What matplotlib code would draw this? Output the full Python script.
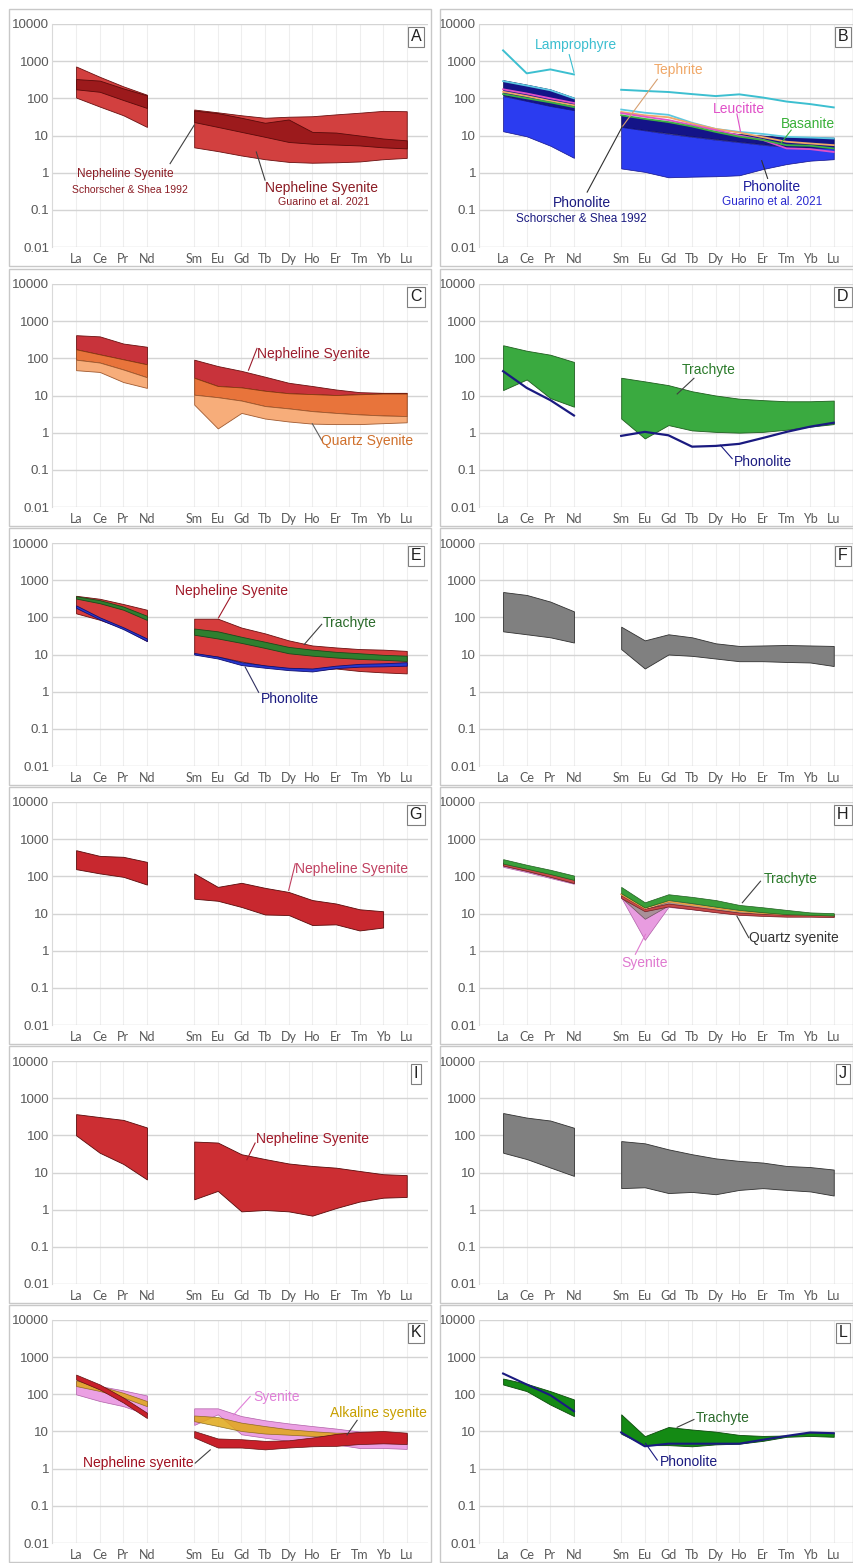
import matplotlib
matplotlib.use("Agg")
import matplotlib.pyplot as plt
from matplotlib.patches import Rectangle
from matplotlib.ticker import NullLocator

# --------------------------------------------------
# DATA  (chondrite-normalised REE)
# --------------------------------------------------

LREE = ["La", "Ce", "Pr", "Nd"]
HREE = ["Sm", "Eu", "Gd", "Tb", "Dy", "Ho", "Er", "Tm", "Yb", "Lu"]
X_L = [0, 1, 2, 3]
X_H = [5, 6, 7, 8, 9, 10, 11, 12, 13, 14]
Y_TICKS = [0.01, 0.1, 1, 10, 100, 1000, 10000]
Y_LABELS = ["0.01", "0.1", "1", "10", "100", "1000", "10000"]

# A
A_light_top_l = [720, 380, 210, 125]
A_light_bot_l = [105, 60, 35, 17]
A_dark_top_l = [330, 300, 185, 120]
A_dark_bot_l = [175, 150, 90, 55]
A_light_top_h = [50, 42, 35, 30, 32, 33, 37, 41, 46, 45]
A_light_bot_h = [4.8, 3.8, 2.9, 2.3, 1.95, 1.85, 1.9, 2.0, 2.3, 2.5]
A_dark_top_h = [47, 40, 30, 22, 27, 12.5, 12, 10, 8.3, 7.4]
A_dark_bot_h = [23, 17, 12.5, 9.2, 6.7, 6.0, 5.7, 5.4, 4.8, 4.5]

# B
B_lamp_l = [1950, 470, 600, 440]
B_lamp_h = [170, 158, 148, 130, 115, 128, 105, 82, 70, 57]
B_navy_top_l = [310, 235, 175, 105]
B_navy_bot_l = [120, 85, 62, 48]
B_navy_top_h = [35, 28, 23, 17.5, 13, 11, 10, 9, 9, 8.8]
B_navy_bot_h = [17, 14, 11.5, 9.5, 8, 6.8, 5.8, 5, 4.7, 4.6]
B_blue_top_l = [115, 85, 62, 48]
B_blue_bot_l = [13, 9.5, 5.3, 2.5]
B_blue_top_h = [17, 13.7, 11, 9.2, 7.7, 6.6, 5.6, 4.9, 4.6, 4.5]
B_blue_bot_h = [1.3, 1.05, 0.75, 0.78, 0.8, 0.85, 1.25, 1.7, 2.1, 2.3]
B_cyan_l = [290, 220, 165, 100]
B_cyan_h = [50, 41, 36, 22, 15, 12.5, 11, 9.2, 8.8, 8.3]
B_teph_l = [150, 115, 85, 65]
B_teph_h = [43, 35, 31, 21, 15, 12, 9, 6.8, 6.1, 5.5]
B_leuc_l = [175, 135, 100, 75]
B_leuc_h = [40, 32, 26, 19, 14, 10, 7.6, 4.5, 4.3, 3.6]
B_bas_l = [130, 100, 78, 58]
B_bas_h = [35, 28, 23, 17.5, 12.5, 9.3, 7.6, 5.5, 5.3, 4.5]

# C
C_top_l = [420, 390, 250, 205]
C_mid1_l = [175, 128, 94, 69]
C_mid2_l = [92, 77, 50, 31]
C_bot_l = [48, 43, 23, 16]
C_top_h = [92, 62, 46, 32, 22, 18, 14.5, 12.3, 11.8, 11.8]
C_mid1_h = [30, 18, 16.5, 13.4, 11.5, 10.9, 10.3, 10.8, 11.3, 11.3]
C_mid2_h = [10.5, 9, 7.3, 5.2, 4.5, 3.8, 3.4, 3.1, 2.9, 2.8]
C_bot_h = [5.7, 1.3, 3.4, 2.4, 2.0, 1.75, 1.7, 1.7, 1.8, 1.9]

# D
D_tr_top_l = [225, 160, 125, 80]
D_tr_bot_l = [14, 27, 8.5, 5.0]
D_ph_l = [45, 16, 7.5, 2.9]
D_tr_top_h = [30, 24, 19, 13, 10, 8.2, 7.5, 7.0, 7.0, 7.3]
D_tr_bot_h = [2.4, 0.7, 1.6, 1.15, 1.05, 1.0, 1.05, 1.2, 1.45, 1.7]
D_ph_h = [0.82, 1.05, 0.85, 0.42, 0.44, 0.5, 0.72, 1.05, 1.45, 1.85]

# E
E_ns_top_l = [380, 316, 228, 160]
E_ns_bot_l = [128, 86, 51, 23]
E_tr_top_l = [370, 290, 195, 110]
E_tr_bot_l = [320, 240, 160, 85]
E_ph_top_l = [210, 100, 54, 27]
E_ph_bot_l = [180, 88, 48, 23]
E_ns_top_h = [92, 92, 53, 37, 24, 17.5, 15.5, 14, 13.5, 12.5]
E_ns_bot_h = [10.5, 8.8, 6.5, 5, 4.2, 3.8, 4.2, 3.6, 3.3, 3.1]
E_tr_top_h = [50, 42, 30, 22, 16, 13.5, 11.8, 10.8, 9.8, 9.3]
E_tr_bot_h = [34, 27, 20.5, 15, 10.8, 9.3, 8.3, 7.6, 7.2, 6.7]
E_ph_top_h = [11, 8.8, 6.2, 5.1, 4.4, 4.2, 5.0, 5.6, 5.8, 6.2]
E_ph_bot_h = [10, 7.8, 5.2, 4.4, 3.8, 3.5, 4.3, 4.7, 4.8, 5.0]

# F
F_top_l = [480, 400, 265, 145]
F_bot_l = [42, 35, 29, 21]
F_top_h = [56, 24, 35, 29, 20, 17, 17.5, 18, 17.5, 17]
F_bot_h = [14, 4.2, 10, 9.2, 7.8, 6.6, 6.6, 6.3, 6.1, 4.9]

# G (no Lu)
G_top_l = [505, 355, 335, 245]
G_bot_l = [156, 120, 97, 60]
G_top_h = [120, 52, 67, 49, 38, 23, 18.6, 13, 11.5]
G_bot_h = [25, 22, 15, 9.4, 9.1, 4.9, 5.1, 3.5, 4.2]

# H
H_tr_top_l = [290, 205, 150, 105]
H_tr_bot_l = [220, 160, 115, 80]
H_rd_top_l = [235, 175, 125, 88]
H_rd_bot_l = [195, 140, 97, 66]
H_sy_top_l = [215, 160, 112, 80]
H_sy_bot_l = [180, 130, 90, 63]
H_sy_top_h = [36, 12, 22, 19, 15, 12, 11, 10, 9.6, 9.5]
H_sy_bot_h = [27, 1.95, 15, 13, 11, 9.5, 9, 8.5, 8.5, 8.3]
H_gy_top_h = [33, 13, 21, 18, 14.5, 11.8, 10.5, 9.8, 9.5, 9.4]
H_gy_bot_h = [27, 7.2, 16.5, 14, 11.5, 9.8, 9.1, 8.7, 8.6, 8.5]
H_rd_top_h = [31, 13.5, 18.5, 15.5, 12.8, 10.6, 9.8, 9.3, 9.3, 9.6]
H_rd_bot_h = [26, 11.5, 15.5, 13, 10.8, 9.2, 8.6, 8.2, 8.2, 8.0]
H_or_h = [33, 14, 21, 17, 14, 11.5, 10.3, 9.6, 9.3, 9.0]
H_tr_top_h = [52, 20, 33, 28, 23, 17, 14.7, 12.5, 10.7, 10.2]
H_tr_bot_h = [35, 14.5, 23, 19, 15.3, 12.5, 10.8, 9.6, 9.2, 8.8]

# I
I_top_l = [372, 310, 260, 163]
I_bot_l = [100, 34, 17, 6.5]
I_top_h = [68, 64, 31, 23, 17.5, 15, 13.5, 11, 9, 8.5]
I_bot_h = [1.9, 3.2, 0.9, 0.98, 0.9, 0.69, 1.1, 1.65, 2.1, 2.2]

# J
J_top_l = [398, 300, 250, 160]
J_bot_l = [34, 23, 13.6, 8.1]
J_top_h = [70, 61, 42, 31, 24, 20.5, 18.5, 15, 14, 12]
J_bot_h = [3.8, 4.0, 2.8, 3.0, 2.6, 3.4, 3.8, 3.4, 3.1, 2.4]

# K
K_sy_top_l = [225, 167, 128, 93]
K_sy_bot_l = [100, 66, 48, 29]
K_al_top_l = [237, 167, 110, 66]
K_al_bot_l = [167, 123, 82, 48]
K_ns_top_l = [340, 185, 82, 32]
K_ns_bot_l = [250, 135, 60, 23]
K_sy_top_h = [42, 42, 26, 20, 16.5, 14, 12, 10, 9.6, 9]
K_sy_bot_h = [15, 29, 8.4, 6.8, 5.6, 5.6, 4.5, 3.6, 3.6, 3.4]
K_al_top_h = [27, 24.5, 17.3, 14, 11.5, 10.2, 9.3, 9.3, 8.6, 8.4]
K_al_bot_h = [19, 14, 10.3, 8.8, 8.2, 7.6, 7.6, 6.8, 6.2, 5.6]
K_ns_top_h = [10.3, 6.5, 6.2, 5.6, 5.8, 6.9, 8.6, 9.8, 10.3, 9.3]
K_ns_bot_h = [6.9, 3.7, 3.7, 3.3, 3.7, 4.0, 4.1, 4.6, 4.8, 4.6]

# L
L_tr_top_l = [266, 192, 122, 73]
L_tr_bot_l = [184, 122, 53, 26]
L_ph_l = [363, 184, 95, 35]
L_tr_top_h = [29, 7.5, 13.2, 11.3, 9.9, 8.1, 7.6, 7.8, 9.3, 9.3]
L_tr_bot_h = [8.7, 4.3, 4.3, 4.0, 4.5, 4.7, 5.6, 7.2, 7.6, 7.2]
L_ph_h = [9.4, 4.0, 4.7, 4.7, 4.7, 4.7, 6.0, 7.6, 9.4, 9.0]

# --------------------------------------------------
# LAYOUT / STYLE
# --------------------------------------------------

W, H = 854, 1563
ROW_TOPS = [24, 284, 543, 802, 1061, 1320]
COL_LEFTS = [52, 479]
AX_W, AX_H = 376, 223
FRAME_X = [(9, 431), (440, 853)]

NAVY = "#1a1a80"
TXT = "Liberation Sans"

fig = plt.figure(figsize=(W / 100, H / 100), dpi=100)
fig.patch.set_facecolor("white")


def make_ax(row, col, letter):
    left, top = COL_LEFTS[col], ROW_TOPS[row]
    fx0, fx1 = FRAME_X[col]
    fy0, fy1 = top - 15, top + AX_H + 19
    fig.add_artist(Rectangle((fx0 / W, 1 - fy1 / H), (fx1 - fx0) / W, (fy1 - fy0) / H,
                             transform=fig.transFigure, fill=False,
                             edgecolor="#c8c8c8", linewidth=1.0))
    ax = fig.add_axes([left / W, 1 - (top + AX_H) / H, AX_W / W, AX_H / H])
    ax.set_yscale("log")
    ax.set_ylim(0.01, 10000)
    ax.set_xlim(-1.02, 14.9)
    ax.set_yticks(Y_TICKS)
    ax.set_yticklabels(Y_LABELS, fontsize=9.6, color="#595959", family=TXT)
    ax.yaxis.set_minor_locator(NullLocator())
    ax.set_xticks(X_L + X_H)
    ax.set_xticklabels(LREE + HREE, fontsize=9, color="#595959", family="Lato")
    ax.tick_params(length=0, pad=2)
    ax.tick_params(axis="x", pad=4)
    for s in ["top", "right", "bottom"]:
        ax.spines[s].set_visible(False)
    ax.spines["left"].set_color("#d9d9d9")
    ax.grid(axis="y", color="#d4d4d4", linewidth=1.0, zorder=0)
    ax.grid(axis="x", color="#eeeeee", linewidth=0.8, zorder=0)
    ax.set_axisbelow(True)
    ax.text(0.968, 0.942, letter, transform=ax.transAxes, ha="center", va="center",
            fontsize=11.5, family=TXT, color="#202020", zorder=8,
            bbox=dict(boxstyle="square,pad=0.18", fc="white", ec="#7f7f7f", lw=0.8))
    return ax


def band(ax, top_l, bot_l, top_h, bot_h, fc, ec, lw=0.6, alpha=1.0, z=2):
    for xs, t, b in ((X_L, top_l, bot_l), (X_H[:len(top_h)], top_h, bot_h)):
        ax.fill_between(xs, b, t, facecolor=fc, edgecolor=ec, linewidth=lw,
                        alpha=alpha, zorder=z)


def line(ax, yl, yh, color, lw=1.4, z=3):
    ax.plot(X_L, yl, color=color, lw=lw, zorder=z)
    ax.plot(X_H[:len(yh)], yh, color=color, lw=lw, zorder=z)


def note(ax, x, y, s, color, size=10):
    ax.text(x, y, s, color=color, fontsize=size, family=TXT,
            ha="center", va="center", zorder=7)


def leader(ax, p0, p1, color="#404040"):
    ax.plot([p0[0], p1[0]], [p0[1], p1[1]], color=color, lw=0.8, zorder=6)


# --------------------------------------------------
# PANELS
# --------------------------------------------------

# A
ax = make_ax(0, 0, "A")
band(ax, A_light_top_l, A_light_bot_l, A_light_top_h, A_light_bot_h, "#d2403f", "#6a1010")
band(ax, A_dark_top_l, A_dark_bot_l, A_dark_top_h, A_dark_bot_h, "#9c1a1c", "#5a0a0a", z=3)
note(ax, 2.1, 0.92, "Nepheline Syenite", "#8b1c24", 8.6)
note(ax, 2.3, 0.35, "Schorscher & Shea 1992", "#8b1c24", 7.5)
leader(ax, (3.98, 1.75), (5.0, 19))
note(ax, 10.37, 0.39, "Nepheline Syenite", "#8b1c24", 10)
note(ax, 10.5, 0.16, "Guarino et al. 2021", "#8b1c24", 7.7)
leader(ax, (8.0, 0.63), (7.63, 3.6))

# B
ax = make_ax(0, 1, "B")
band(ax, B_navy_top_l, B_navy_bot_l, B_navy_top_h, B_navy_bot_h, "#141488", "#0a0a50", lw=0.5)
band(ax, B_blue_top_l, B_blue_bot_l, B_blue_top_h, B_blue_bot_h, "#2b3cf0", "#10108a", lw=0.5, z=3)
line(ax, B_cyan_l, B_cyan_h, "#5cc8e0", lw=1.3)
line(ax, B_teph_l, B_teph_h, "#f0a868", lw=1.3)
line(ax, B_leuc_l, B_leuc_h, "#e050c8", lw=1.3)
line(ax, B_bas_l, B_bas_h, "#3cb043", lw=1.3)
line(ax, B_lamp_l, B_lamp_h, "#3cbfd0", lw=1.4)
note(ax, 3.1, 2800, "Lamprophyre", "#3cbfd0", 10)
leader(ax, (2.8, 1500), (3.0, 500), "#3cbfd0")
note(ax, 7.45, 580, "Tephrite", "#f0a868", 10)
leader(ax, (6.53, 325), (5.04, 17), "#d8a070")
note(ax, 10.0, 53, "Leucitite", "#e050c8", 10)
leader(ax, (9.9, 38), (10.05, 13), "#e050c8")
note(ax, 12.9, 21, "Basanite", "#38b038", 10)
leader(ax, (12.2, 14), (11.75, 6), "#38b038")
note(ax, 3.32, 0.155, "Phonolite", NAVY, 10)
note(ax, 3.32, 0.058, "Schorscher & Shea 1992", NAVY, 8.5)
leader(ax, (3.56, 0.30), (5.04, 17), "#303030")
note(ax, 11.4, 0.42, "Phonolite", "#1c1c9c", 10)
note(ax, 11.4, 0.16, "Guarino et al. 2021", "#2a2ad0", 8.5)
leader(ax, (11.2, 0.7), (10.95, 2.1), "#303030")

# C
ax = make_ax(1, 0, "C")
band(ax, C_top_l, C_mid1_l, C_top_h, C_mid1_h, "#c8333b", "#6a1010")
band(ax, C_mid1_l, C_mid2_l, C_mid1_h, C_mid2_h, "#e8743b", "#8a3a10")
band(ax, C_mid2_l, C_bot_l, C_mid2_h, C_bot_h, "#f7ad7a", "#a05a30")
note(ax, 10.06, 130, "Nepheline Syenite", "#9b1c2c", 10)
leader(ax, (7.66, 185), (7.3, 48), "#9b1c2c")
note(ax, 12.3, 0.59, "Quartz Syenite", "#d0702c", 10)
leader(ax, (10.4, 0.63), (10.0, 1.75), "#606060")

# D
ax = make_ax(1, 1, "D")
band(ax, D_tr_top_l, D_tr_bot_l, D_tr_top_h, D_tr_bot_h, "#3aaa40", "#1e5e1e")
line(ax, D_ph_l, D_ph_h, NAVY, lw=1.6)
note(ax, 8.7, 50, "Trachyte", "#2a7a2a", 10)
leader(ax, (8.08, 29), (7.37, 11))
note(ax, 11.0, 0.16, "Phonolite", NAVY, 10)
leader(ax, (9.7, 0.2), (9.2, 0.46), NAVY)

# E
ax = make_ax(2, 0, "E")
band(ax, E_ns_top_l, E_ns_bot_l, E_ns_top_h, E_ns_bot_h, "#d63c3c", "#6a1010")
band(ax, E_tr_top_l, E_tr_bot_l, E_tr_top_h, E_tr_bot_h, "#2f7f2f", "#1a4a1a", z=3)
band(ax, E_ph_top_l, E_ph_bot_l, E_ph_top_h, E_ph_bot_h, "#2838d0", "#101070", z=3)
note(ax, 6.6, 520, "Nepheline Syenite", "#a01828", 10)
leader(ax, (6.53, 350), (6.03, 97), "#a01828")
note(ax, 11.6, 72, "Trachyte", "#2a6a2a", 10)
leader(ax, (10.4, 65), (9.66, 18.6))
note(ax, 9.07, 0.63, "Phonolite", NAVY, 10)
leader(ax, (7.73, 0.96), (7.16, 4.6), "#303060")

# F
ax = make_ax(2, 1, "F")
band(ax, F_top_l, F_bot_l, F_top_h, F_bot_h, "#808080", "#303030")

# G
ax = make_ax(3, 0, "G")
band(ax, G_top_l, G_bot_l, G_top_h, G_bot_h, "#c8282f", "#5a0a0a")
note(ax, 11.68, 162, "Nepheline Syenite", "#c04060", 10)
leader(ax, (9.28, 218), (9.0, 42), "#c04060")

# H
ax = make_ax(3, 1, "H")
band(ax, H_sy_top_l, H_sy_bot_l, H_sy_top_h, H_sy_bot_h, "#e89ce0", "#b060a8", lw=0.5)
band(ax, H_rd_top_l, H_rd_bot_l, H_gy_top_h, H_gy_bot_h, "#a89098", "#705060", lw=0.5)
band(ax, H_rd_top_l, H_rd_bot_l, H_rd_top_h, H_rd_bot_h, "#c84848", "#702020", lw=0.5)
ax.plot(X_H, H_or_h, color="#e8a040", lw=1.2, zorder=3)
band(ax, H_tr_top_l, H_tr_bot_l, H_tr_top_h, H_tr_bot_h, "#3a9f3a", "#1e5e1e", lw=0.5, z=3)
note(ax, 12.18, 87, "Trachyte", "#2a7a2a", 10)
leader(ax, (10.9, 74), (10.13, 19.5))
note(ax, 12.3, 2.24, "Quartz syenite", "#333333", 10)
leader(ax, (10.4, 2.24), (9.9, 8.5))
note(ax, 5.99, 0.48, "Syenite", "#e07ad0", 10)
leader(ax, (5.6, 0.8), (6.03, 2.75), "#e07ad0")

# I
ax = make_ax(4, 0, "I")
band(ax, I_top_l, I_bot_l, I_top_h, I_bot_h, "#cc2e33", "#5a0a0a")
note(ax, 9.99, 79, "Nepheline Syenite", "#a01828", 10)
leader(ax, (7.58, 62), (7.23, 22), "#a01828")

# J
ax = make_ax(4, 1, "J")
band(ax, J_top_l, J_bot_l, J_top_h, J_bot_h, "#808080", "#303030")

# K
ax = make_ax(5, 0, "K")
band(ax, K_sy_top_l, K_sy_bot_l, K_sy_top_h, K_sy_bot_h, "#eba0e3", "#b060a8", lw=0.5)
band(ax, K_al_top_l, K_al_bot_l, K_al_top_h, K_al_bot_h, "#e0a818", "#806010", lw=0.5,
     alpha=0.85, z=3)
band(ax, K_ns_top_l, K_ns_bot_l, K_ns_top_h, K_ns_bot_h, "#c8202a", "#601010", lw=0.5, z=4)
note(ax, 8.5, 83, "Syenite", "#e080d8", 10)
leader(ax, (7.37, 87), (6.67, 28), "#e080d8")
note(ax, 12.8, 31.5, "Alkaline syenite", "#c8a000", 10)
leader(ax, (11.9, 20), (11.47, 8.1))
note(ax, 2.64, 1.41, "Nepheline syenite", "#a01020", 10)
leader(ax, (5.04, 1.41), (5.68, 3.2))

# L
ax = make_ax(5, 1, "L")
band(ax, L_tr_top_l, L_tr_bot_l, L_tr_top_h, L_tr_bot_h, "#148a14", "#0a4a0a")
line(ax, L_ph_l, L_ph_h, NAVY, lw=1.5)
note(ax, 9.28, 22.4, "Trachyte", "#2a6a2a", 10)
leader(ax, (8.08, 21), (7.37, 13))
note(ax, 7.87, 1.5, "Phonolite", NAVY, 10)
leader(ax, (6.53, 1.7), (6.03, 4.8), NAVY)

fig.savefig("out.png", dpi=100, facecolor="white")
